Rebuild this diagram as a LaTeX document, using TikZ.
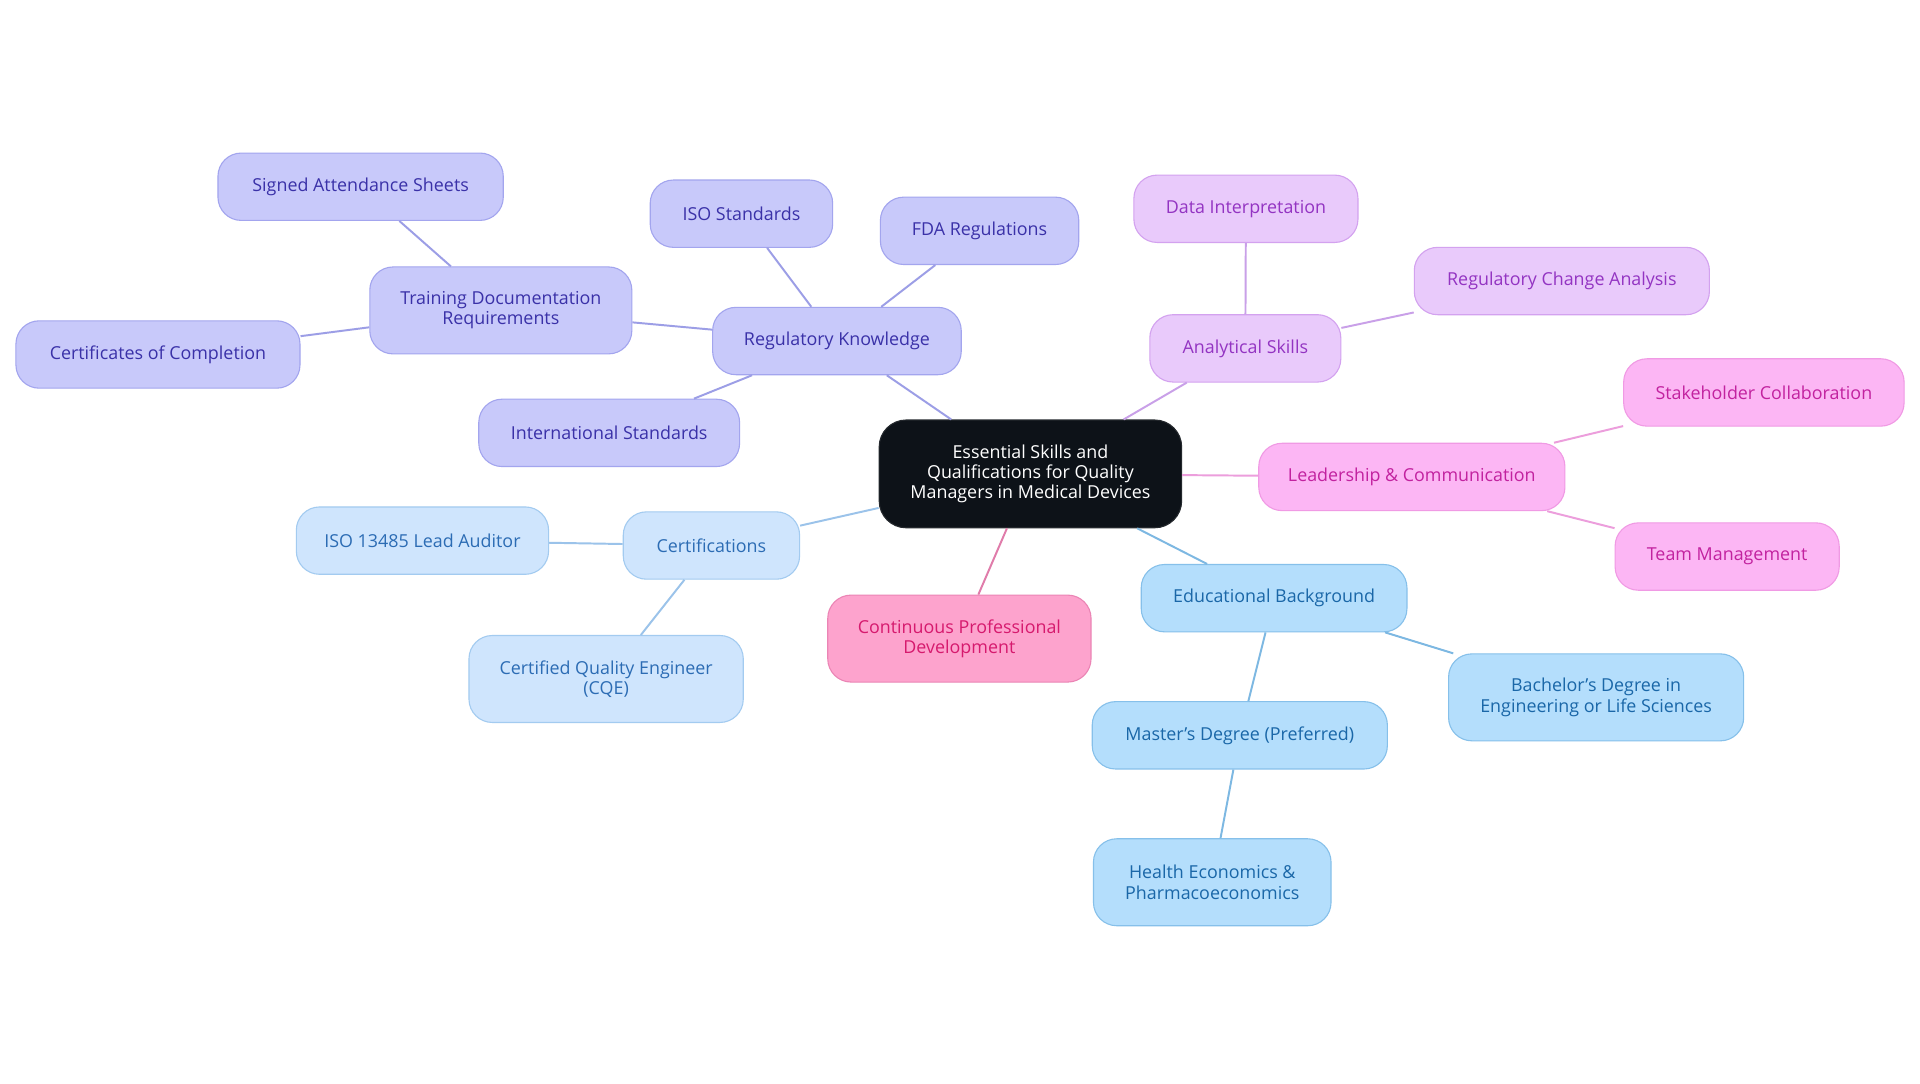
\documentclass[tikz,border=0pt]{standalone}
\usepackage{fontspec}
\setmainfont{Open Sans}
\definecolor{rootfill}{HTML}{0D1218}
\definecolor{regfill}{HTML}{C8C9FA}
\definecolor{regdraw}{HTML}{A3A5EE}
\definecolor{regtext}{HTML}{3A31A8}
\definecolor{regline}{HTML}{9C9EE6}
\definecolor{anafill}{HTML}{E9CAFB}
\definecolor{anadraw}{HTML}{D3A2EF}
\definecolor{anatext}{HTML}{9334C2}
\definecolor{analine}{HTML}{C9A0E8}
\definecolor{leadfill}{HTML}{FCB6F4}
\definecolor{leaddraw}{HTML}{F09AE4}
\definecolor{leadtext}{HTML}{C2229F}
\definecolor{leadline}{HTML}{EC9EDC}
\definecolor{edufill}{HTML}{B4DEFC}
\definecolor{edudraw}{HTML}{86C0EA}
\definecolor{edutext}{HTML}{1A67A8}
\definecolor{eduline}{HTML}{7DB8E2}
\definecolor{certfill}{HTML}{CFE5FD}
\definecolor{certdraw}{HTML}{A3CBF0}
\definecolor{certtext}{HTML}{2C6CB4}
\definecolor{certline}{HTML}{9BC3EA}
\definecolor{cpdfill}{HTML}{FDA3CD}
\definecolor{cpddraw}{HTML}{EB85B5}
\definecolor{cpdtext}{HTML}{D61A6E}
\definecolor{cpdline}{HTML}{E07CAA}

\begin{document}
\begin{tikzpicture}[x=1pt, y=-1pt,
  box/.style={rounded corners=19pt, align=center, minimum height=55pt,
    inner sep=0pt, line width=0.9pt, font=\fontsize{14.6}{16.6}\selectfont},
  tall/.style={minimum height=71pt},
  rootbox/.style={box, fill=rootfill, draw=rootfill!80!gray, text=white, minimum height=88pt, rounded corners=22pt},
  regbox/.style={box, fill=regfill, draw=regdraw, text=regtext},
  anabox/.style={box, fill=anafill, draw=anadraw, text=anatext},
  leadbox/.style={box, fill=leadfill, draw=leaddraw, text=leadtext},
  edubox/.style={box, fill=edufill, draw=edudraw, text=edutext},
  certbox/.style={box, fill=certfill, draw=certdraw, text=certtext},
  cpdbox/.style={box, fill=cpdfill, draw=cpddraw, text=cpdtext},
  link/.style={line width=1.6pt}]
\useasboundingbox[fill=white] (0,0) rectangle (1568,884.5);

\node[rootbox, minimum width=247pt] (root) at (841.5,387) {Essential Skills and\\Qualifications for Quality\\Managers in Medical Devices};

% regulatory branch
\node[regbox, minimum width=203pt] (regk) at (683.5,278.5) {Regulatory Knowledge};
\node[regbox, minimum width=149pt] (iso) at (605.5,174.5) {ISO Standards};
\node[regbox, minimum width=162pt] (fda) at (800,188.5) {FDA Regulations};
\node[regbox, tall, minimum width=214pt] (train) at (409,253.5) {Training Documentation\\Requirements};
\node[regbox, minimum width=233pt] (signed) at (294.5,152.5) {Signed Attendance Sheets};
\node[regbox, minimum width=232pt] (certcomp) at (129,289.5) {Certificates of Completion};
\node[regbox, minimum width=213pt] (intl) at (497.5,353.5) {International Standards};

% analytical branch
\node[anabox, minimum width=156pt] (ana) at (1017,284.5) {Analytical Skills};
\node[anabox, minimum width=183pt] (data) at (1017.5,170.5) {Data Interpretation};
\node[anabox, minimum width=241pt] (change) at (1275.5,229.5) {Regulatory Change Analysis};

% leadership branch
\node[leadbox, minimum width=250pt] (lead) at (1153,389.5) {Leadership \& Communication};
\node[leadbox, minimum width=229pt] (stake) at (1440.5,320.5) {Stakeholder Collaboration};
\node[leadbox, minimum width=183pt] (team) at (1410.5,454.5) {Team Management};

% education branch
\node[edubox, minimum width=217pt] (edu) at (1040.5,488.5) {Educational Background};
\node[edubox, tall, minimum width=241pt] (bach) at (1303.5,569.5) {Bachelor's Degree in\\Engineering or Life Sciences};
\node[edubox, minimum width=241pt] (mast) at (1012.5,600.5) {Master's Degree (Preferred)};
\node[edubox, tall, minimum width=194pt] (health) at (990,720.5) {Health Economics \&\\Pharmacoeconomics};

\node[cpdbox, tall, minimum width=215pt] (cpd) at (783.5,521.5) {Continuous Professional\\Development};

% certifications branch
\node[certbox, minimum width=144pt] (cert) at (581,445.5) {Certifications};
\node[certbox, minimum width=206pt] (lead13485) at (345,441.5) {ISO 13485 Lead Auditor};
\node[certbox, tall, minimum width=224pt] (cqe) at (495,554.5) {Certified Quality Engineer\\(CQE)};

% links
\draw[link, regline] (root) -- (regk);
\draw[link, regline] (regk) -- (iso);
\draw[link, regline] (regk) -- (fda);
\draw[link, regline] (regk) -- (train);
\draw[link, regline] (regk) -- (intl);
\draw[link, regline] (train) -- (signed);
\draw[link, regline] (train) -- (certcomp);
\draw[link, analine] (root) -- (ana);
\draw[link, analine] (ana) -- (data);
\draw[link, analine] (ana) -- (change);
\draw[link, leadline] (root) -- (lead);
\draw[link, leadline] (lead) -- (stake);
\draw[link, leadline] (lead) -- (team);
\draw[link, eduline] (root) -- (edu);
\draw[link, eduline] (edu) -- (bach);
\draw[link, eduline] (edu) -- (mast);
\draw[link, eduline] (mast) -- (health);
\draw[link, cpdline] (root) -- (cpd);
\draw[link, certline] (root) -- (cert);
\draw[link, certline] (cert) -- (lead13485);
\draw[link, certline] (cert) -- (cqe);
\end{tikzpicture}
\end{document}
